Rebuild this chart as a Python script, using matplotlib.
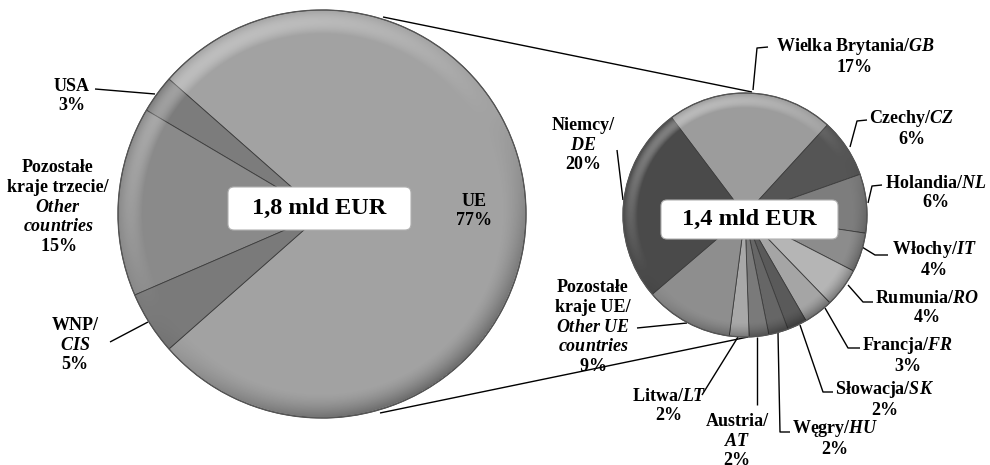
import matplotlib
matplotlib.use('Agg')
import matplotlib.pyplot as plt
import numpy as np
from matplotlib.patches import Wedge, Circle, FancyBboxPatch

# left pie: share of total exports
main_labels = ['UE', 'USA', 'Pozostałe kraje trzecie', 'WNP']
main_values = [77, 3, 15, 5]
main_colors = ['#a2a2a2', '#7c7c7c', '#8a8a8a', '#7a7a7a']

# right pie: EU breakdown (share of total)
eu_labels = ['GB', 'CZ', 'NL', 'IT', 'RO', 'FR', 'SK', 'HU', 'AT', 'LT', 'Other UE', 'DE']
eu_values = [17, 6, 6, 4, 4, 3, 2, 2, 2, 2, 9, 20]
eu_colors = ['#9c9c9c', '#555555', '#7d7d7d', '#8c8c8c', '#b5b5b5', '#a5a5a5',
             '#5a5a5a', '#666666', '#7a7a7a', '#a8a8a8', '#8e8e8e', '#4a4a4a']

main_total = '1,8 mld EUR'
eu_total = '1,4 mld EUR'

W, H = 990, 465

plt.rcParams['font.family'] = 'Liberation Serif'
plt.rcParams['font.weight'] = 'bold'
plt.rcParams['mathtext.fontset'] = 'custom'
plt.rcParams['mathtext.it'] = 'Liberation Serif:style=italic:weight=bold'
plt.rcParams['mathtext.rm'] = 'Liberation Serif:weight=bold'
FS = 13


def Y(y):
    # image rows -> axis coords (y up)
    return H - y


def rim_overlay(ax, cx, cy, r):
    # smooth fake bevel: light rim on the upper left, dark rim on the lower right
    n = 400
    xs = np.linspace(cx - r, cx + r, n)
    ys = np.linspace(cy - r, cy + r, n)
    gx, gy = np.meshgrid(xs, ys)
    dist = np.hypot(gx - cx, gy - cy) / r
    ang = np.arctan2(gy - cy, gx - cx)
    band = np.clip((dist - 0.88) / 0.12, 0, 1)
    k = np.cos(ang - np.radians(120))
    rgba = np.zeros((n, n, 4))
    light = k > 0
    rgba[..., :3] = np.where(light[..., None], 1.0, 0.0)
    a = np.where(light, 0.30 * k * np.sin(np.pi * band), 0.35 * (-k) * band ** 1.5)
    rgba[..., 3] = np.where(dist <= 1, a, 0)
    im = ax.imshow(rgba, extent=(cx - r, cx + r, cy - r, cy + r), origin='lower',
                   zorder=3, interpolation='bilinear')
    im.set_clip_path(Circle((cx, cy), r, transform=ax.transData))


def draw_pie(ax, values, colors, cx, cy, r, start, counterclock):
    wedges, _ = ax.pie(values, colors=colors, startangle=start, counterclock=counterclock,
                       center=(cx, cy), radius=r, normalize=True,
                       wedgeprops=dict(edgecolor='#3c3c3c', linewidth=0.6))
    for w in wedges:
        w.set_zorder(2)
    rim_overlay(ax, cx, cy, r)
    ax.add_patch(Circle((cx, cy), r, fill=False, ec='#555555', lw=0.9, zorder=4))


def total_box(ax, x0, y0, x1, y1, s):
    ax.add_patch(FancyBboxPatch((x0, Y(y1)), x1 - x0, y1 - y0,
                                boxstyle='round,pad=0,rounding_size=6',
                                fc='white', ec='#b0b0b0', lw=0.8, zorder=7))
    ax.text((x0 + x1) / 2, Y((y0 + y1) / 2), s, ha='center', va='center',
            fontsize=17.5, fontweight='bold', zorder=8)


def label(ax, x, y, s, ha='center'):
    ax.text(x, Y(y), s, ha=ha, va='center', fontsize=FS, fontweight='bold',
            linespacing=1.2, zorder=6)


def leader(ax, xs, ys):
    ax.plot(xs, [Y(v) for v in ys], color='black', lw=1.0, zorder=1, solid_capstyle='butt')


fig = plt.figure(figsize=(W / 100, H / 100), dpi=100)
ax = fig.add_axes([0, 0, 1, 1])

# connector lines between pies
leader(ax, [383, 752], [17, 92])
leader(ax, [380, 748], [413, 337])

draw_pie(ax, main_values, main_colors, 322, Y(214), 204, -138.6, True)
draw_pie(ax, eu_values, eu_colors, 745, Y(215), 122, 127, False)

total_box(ax, 228, 187, 411, 230, main_total)
total_box(ax, 661, 200, 838, 239, eu_total)

# left pie labels
label(ax, 72, 96, 'USA\n3%')
leader(ax, [95, 155], [89, 94])
label(ax, 58, 207, 'Pozostałe\nkraje trzecie/\n$Other$\n$countries$\n$15\\%$')
label(ax, 75, 345, 'WNP/\n$CIS$\n5%')
leader(ax, [110, 148], [342, 322])
label(ax, 474, 211, 'UE\n77%')

# right pie labels
label(ax, 855, 56, 'Wielka Brytania/$GB$\n17%')
leader(ax, [753, 757, 768], [90, 48, 47])
label(ax, 912, 128, 'Czechy/$CZ$\n6%')
leader(ax, [850, 857, 867], [147, 121, 120])
label(ax, 936, 193, 'Holandia/$NL$\n6%')
leader(ax, [868, 872, 882], [203, 186, 185])
label(ax, 934, 259, 'Włochy/$IT$\n4%')
leader(ax, [862, 875, 888], [247, 255, 255])
label(ax, 927, 308, 'Rumunia/$RO$\n4%')
leader(ax, [848, 863, 873], [285, 302, 302])
label(ax, 908, 355, 'Francja/$FR$\n3%')
leader(ax, [825, 848, 860], [308, 348, 348])
label(ax, 885, 399, 'Słowacja/$SK$\n2%')
leader(ax, [800, 823, 833], [325, 392, 392])
label(ax, 835, 438, 'Węgry/$HU$\n2%')
leader(ax, [778, 780, 790], [333, 432, 432])
label(ax, 737, 441, 'Austria/\n$AT$\n2%')
leader(ax, [757, 757], [337, 405])
label(ax, 669, 406, 'Litwa/$LT$\n2%')
leader(ax, [738, 702], [337, 395])
label(ax, 593, 327, 'Pozostałe\nkraje UE/\n$Other\\ UE$\n$countries$\n$9\\%$')
leader(ax, [637, 687], [328, 323])
label(ax, 583, 145, 'Niemcy/\n$DE$\n20%')
leader(ax, [617, 623], [150, 200])

# pie() resets limits, so fix the pixel frame last
ax.set_xlim(0, W)
ax.set_ylim(0, H)
ax.set_aspect('equal')
ax.axis('off')

fig.savefig('out.png', dpi=100)
